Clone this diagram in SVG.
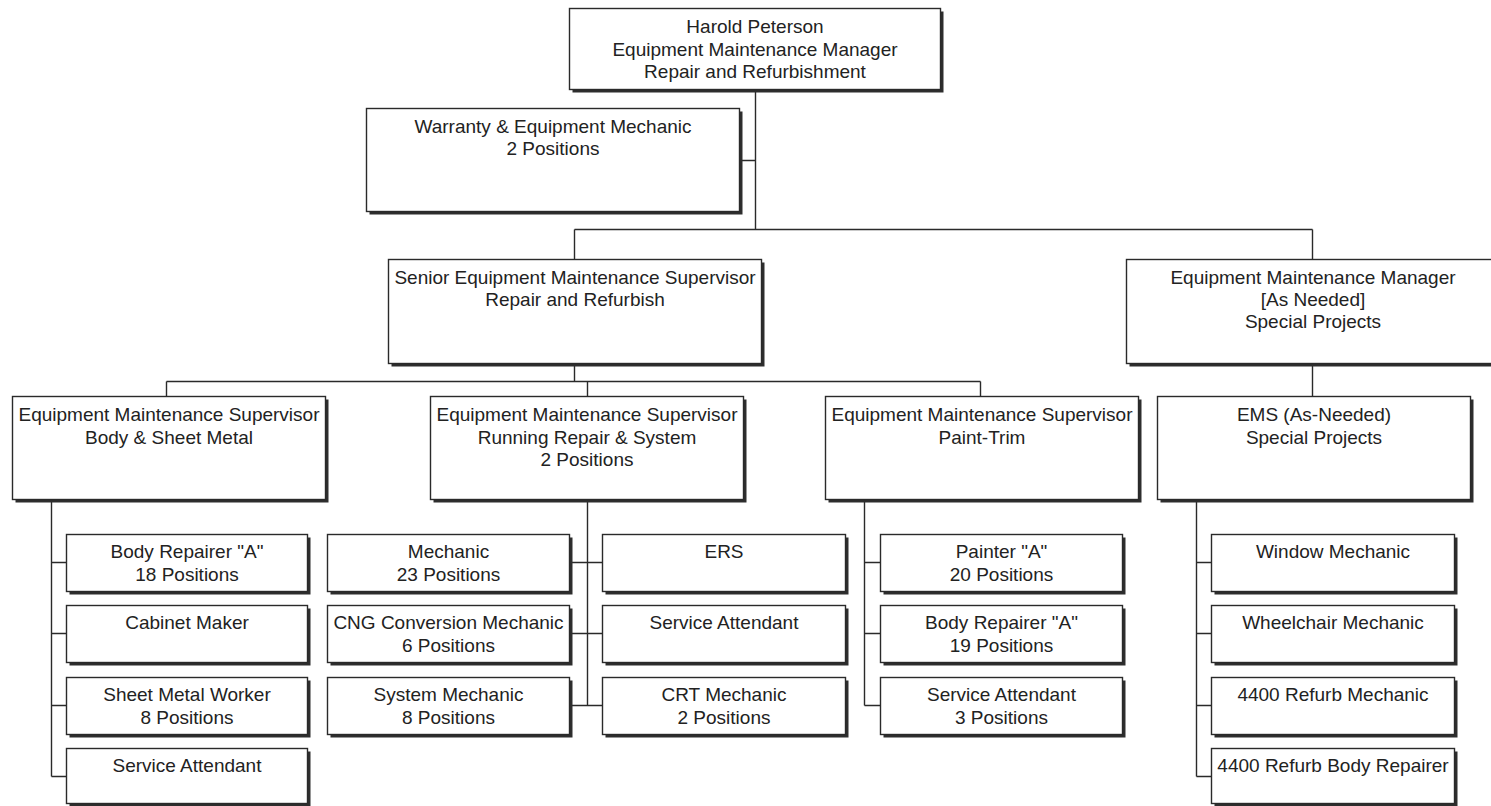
<svg xmlns="http://www.w3.org/2000/svg" width="1491" height="806" viewBox="0 0 1491 806">
<style>
.sh{fill:#2e2e2e;}
.bx{fill:#ffffff;stroke:#2a2a2a;stroke-width:1.4;}
.t{font-family:"Liberation Sans",Arial,sans-serif;font-size:19px;fill:#222;text-anchor:middle;}
.ln{stroke:#2a2a2a;stroke-width:1.4;fill:none;}
</style>
<rect x="0" y="0" width="1491" height="806" fill="#ffffff"/>
<g id="connectors">
<path class="ln" d="M755.5 89.5V229.5M739.5 160.5H755.5M574.5 229.5H1312.5M574.5 229.5V259.5M1312.5 229.5V259.5"/>
<path class="ln" d="M574.5 363.5V381.5M166.5 381.5H980.5M166.5 381.5V396.5M587.5 381.5V396.5M980.5 381.5V396.5M1312.5 363.5V396.5"/>
<path class="ln" d="M51.5 499.5V776.5M51.5 562.5H66.5M51.5 633.5H66.5M51.5 705.5H66.5M51.5 776.5H66.5"/>
<path class="ln" d="M587.5 499.5V705.5M569.5 562.5H602.5M569.5 633.5H602.5M569.5 705.5H602.5"/>
<path class="ln" d="M864.5 499.5V705.5M864.5 562.5H880.5M864.5 633.5H880.5M864.5 705.5H880.5"/>
<path class="ln" d="M1196.5 499.5V776.5M1196.5 562.5H1211.5M1196.5 633.5H1211.5M1196.5 705.5H1211.5M1196.5 776.5H1211.5"/>
</g>
<g id="root"><rect class="sh" x="572.5" y="11.5" width="371" height="81"/><rect class="bx" x="569.5" y="8.5" width="371" height="81"/>
<text class="t" x="755" y="33">Harold Peterson</text><text class="t" x="755" y="56">Equipment Maintenance Manager</text><text class="t" x="755" y="78">Repair and Refurbishment</text></g>
<g id="warranty"><rect class="sh" x="369.5" y="111.5" width="373" height="103"/><rect class="bx" x="366.5" y="108.5" width="373" height="103"/>
<text class="t" x="553" y="133">Warranty &amp; Equipment Mechanic</text><text class="t" x="553" y="155">2 Positions</text></g>
<g id="senior"><rect class="sh" x="391.5" y="262.5" width="373" height="104"/><rect class="bx" x="388.5" y="259.5" width="373" height="104"/>
<text class="t" x="575" y="284">Senior Equipment Maintenance Supervisor</text><text class="t" x="575" y="306">Repair and Refurbish</text></g>
<g id="emm"><rect class="sh" x="1129.5" y="262.5" width="373" height="104"/><rect class="bx" x="1126.5" y="259.5" width="373" height="104"/>
<text class="t" x="1313" y="284">Equipment Maintenance Manager</text><text class="t" x="1313" y="306">[As Needed]</text><text class="t" x="1313" y="328">Special Projects</text></g>
<g id="sup-body"><rect class="sh" x="15.5" y="399.5" width="313" height="103"/><rect class="bx" x="12.5" y="396.5" width="313" height="103"/>
<text class="t" x="169" y="421">Equipment Maintenance Supervisor</text><text class="t" x="169" y="444">Body &amp; Sheet Metal</text></g>
<g id="sup-running"><rect class="sh" x="433.5" y="399.5" width="313" height="103"/><rect class="bx" x="430.5" y="396.5" width="313" height="103"/>
<text class="t" x="587" y="421">Equipment Maintenance Supervisor</text><text class="t" x="587" y="444">Running Repair &amp; System</text><text class="t" x="587" y="466">2 Positions</text></g>
<g id="sup-paint"><rect class="sh" x="828.5" y="399.5" width="313" height="103"/><rect class="bx" x="825.5" y="396.5" width="313" height="103"/>
<text class="t" x="982" y="421">Equipment Maintenance Supervisor</text><text class="t" x="982" y="444">Paint-Trim</text></g>
<g id="ems"><rect class="sh" x="1160.5" y="399.5" width="313" height="103"/><rect class="bx" x="1157.5" y="396.5" width="313" height="103"/>
<text class="t" x="1314" y="421">EMS (As-Needed)</text><text class="t" x="1314" y="444">Special Projects</text></g>

<g id="body-1"><rect class="sh" x="69.5" y="537.5" width="241" height="57"/><rect class="bx" x="66.5" y="534.5" width="241" height="57"/>
<text class="t" x="187" y="558">Body Repairer "A"</text><text class="t" x="187" y="581">18 Positions</text></g>
<g id="body-2"><rect class="sh" x="69.5" y="608.5" width="241" height="57"/><rect class="bx" x="66.5" y="605.5" width="241" height="57"/>
<text class="t" x="187" y="629">Cabinet Maker</text></g>
<g id="body-3"><rect class="sh" x="69.5" y="680.5" width="241" height="57"/><rect class="bx" x="66.5" y="677.5" width="241" height="57"/>
<text class="t" x="187" y="701">Sheet Metal Worker</text><text class="t" x="187" y="724">8 Positions</text></g>
<g id="body-4"><rect class="sh" x="69.5" y="751.5" width="241" height="55"/><rect class="bx" x="66.5" y="748.5" width="241" height="55"/>
<text class="t" x="187" y="772">Service Attendant</text></g>

<g id="run-1"><rect class="sh" x="330.5" y="537.5" width="242" height="57"/><rect class="bx" x="327.5" y="534.5" width="242" height="57"/>
<text class="t" x="448.5" y="558">Mechanic</text><text class="t" x="448.5" y="581">23 Positions</text></g>
<g id="run-2"><rect class="sh" x="330.5" y="608.5" width="242" height="57"/><rect class="bx" x="327.5" y="605.5" width="242" height="57"/>
<text class="t" x="448.5" y="629">CNG Conversion Mechanic</text><text class="t" x="448.5" y="652">6 Positions</text></g>
<g id="run-3"><rect class="sh" x="330.5" y="680.5" width="242" height="57"/><rect class="bx" x="327.5" y="677.5" width="242" height="57"/>
<text class="t" x="448.5" y="701">System Mechanic</text><text class="t" x="448.5" y="724">8 Positions</text></g>
<g id="run-4"><rect class="sh" x="605.5" y="537.5" width="243" height="57"/><rect class="bx" x="602.5" y="534.5" width="243" height="57"/>
<text class="t" x="724" y="558">ERS</text></g>
<g id="run-5"><rect class="sh" x="605.5" y="608.5" width="243" height="57"/><rect class="bx" x="602.5" y="605.5" width="243" height="57"/>
<text class="t" x="724" y="629">Service Attendant</text></g>
<g id="run-6"><rect class="sh" x="605.5" y="680.5" width="243" height="57"/><rect class="bx" x="602.5" y="677.5" width="243" height="57"/>
<text class="t" x="724" y="701">CRT Mechanic</text><text class="t" x="724" y="724">2 Positions</text></g>

<g id="paint-1"><rect class="sh" x="883.5" y="537.5" width="242" height="57"/><rect class="bx" x="880.5" y="534.5" width="242" height="57"/>
<text class="t" x="1001.5" y="558">Painter "A"</text><text class="t" x="1001.5" y="581">20 Positions</text></g>
<g id="paint-2"><rect class="sh" x="883.5" y="608.5" width="242" height="57"/><rect class="bx" x="880.5" y="605.5" width="242" height="57"/>
<text class="t" x="1001.5" y="629">Body Repairer "A"</text><text class="t" x="1001.5" y="652">19 Positions</text></g>
<g id="paint-3"><rect class="sh" x="883.5" y="680.5" width="242" height="57"/><rect class="bx" x="880.5" y="677.5" width="242" height="57"/>
<text class="t" x="1001.5" y="701">Service Attendant</text><text class="t" x="1001.5" y="724">3 Positions</text></g>

<g id="ems-1"><rect class="sh" x="1214.5" y="537.5" width="243" height="57"/><rect class="bx" x="1211.5" y="534.5" width="243" height="57"/>
<text class="t" x="1333" y="558">Window Mechanic</text></g>
<g id="ems-2"><rect class="sh" x="1214.5" y="608.5" width="243" height="57"/><rect class="bx" x="1211.5" y="605.5" width="243" height="57"/>
<text class="t" x="1333" y="629">Wheelchair Mechanic</text></g>
<g id="ems-3"><rect class="sh" x="1214.5" y="680.5" width="243" height="57"/><rect class="bx" x="1211.5" y="677.5" width="243" height="57"/>
<text class="t" x="1333" y="701">4400 Refurb Mechanic</text></g>
<g id="ems-4"><rect class="sh" x="1214.5" y="751.5" width="243" height="55"/><rect class="bx" x="1211.5" y="748.5" width="243" height="55"/>
<text class="t" x="1333" y="772">4400 Refurb Body Repairer</text></g>
</svg>
